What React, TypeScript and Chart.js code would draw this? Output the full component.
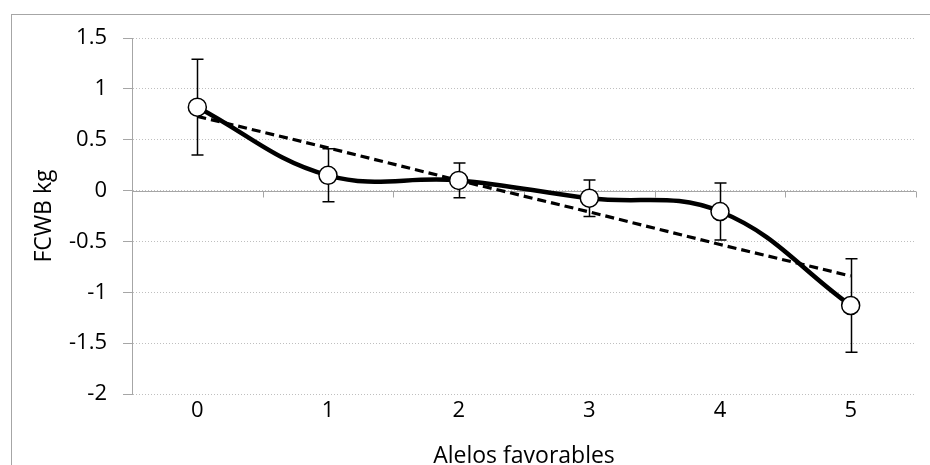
import React, { useEffect, useRef } from "react";
import { Chart, registerables } from "chart.js";

Chart.register(...registerables);

const categories = ["0", "1", "2", "3", "4", "5"];
const meanValues = [0.82, 0.15, 0.1, -0.075, -0.206, -1.13];
const errorValues = [0.47, 0.26, 0.17, 0.18, 0.28, 0.46];
const trendValues = [0.73, 0.42, 0.1, -0.21, -0.53, -0.84];
const yTicks = [-2, -1.5, -1, -0.5, 0, 0.5, 1, 1.5];
const xTitle = "Alelos favorables";
const yTitle = "FCWB kg";

const FONT = '"Open Sans", "Noto Sans", sans-serif';
const GRAY = "#a6a6a6";

const decorPlugin = {
  id: "decor",
  beforeDatasetsDraw(chart: any) {
    const { ctx, chartArea } = chart;
    const x = chart.scales.x;
    const y = chart.scales.y;
    const y0 = Math.round(y.getPixelForValue(0)) + 0.5;
    ctx.save();
    ctx.strokeStyle = GRAY;
    ctx.lineWidth = 1;
    ctx.setLineDash([]);
    ctx.beginPath();
    ctx.moveTo(chartArea.left, y0);
    ctx.lineTo(chartArea.right, y0);
    for (let k = 1; k <= categories.length; k++) {
      const px = Math.round(x.getPixelForValue(k - 0.5)) + 0.5;
      ctx.moveTo(px, y0);
      ctx.lineTo(px, y0 + 6);
    }
    ctx.stroke();
    ctx.strokeStyle = "#000";
    ctx.lineWidth = 1.5;
    ctx.beginPath();
    meanValues.forEach((v, i) => {
      const px = Math.round(x.getPixelForValue(i)) + 0.5;
      const top = y.getPixelForValue(v + errorValues[i]);
      const bot = y.getPixelForValue(v - errorValues[i]);
      ctx.moveTo(px, top);
      ctx.lineTo(px, bot);
      ctx.moveTo(px - 6, top);
      ctx.lineTo(px + 6, top);
      ctx.moveTo(px - 6, bot);
      ctx.lineTo(px + 6, bot);
    });
    ctx.stroke();
    ctx.restore();
  },
  afterDraw(chart: any) {
    const { ctx } = chart;
    ctx.save();
    ctx.strokeStyle = GRAY;
    ctx.lineWidth = 1;
    ctx.strokeRect(11.5, 14.5, 1000, 1000);
    ctx.restore();
  },
};

export default function App() {
  const ref = useRef<HTMLCanvasElement | null>(null);
  useEffect(() => {
    if (!ref.current) return;
    const chart = new Chart(ref.current, {
      type: "line",
      data: {
        labels: categories,
        datasets: [
          {
            label: "FCWB",
            data: meanValues,
            borderColor: "#000",
            borderWidth: 4.5,
            tension: 0.4,
            pointRadius: 9,
            pointHoverRadius: 9,
            pointBackgroundColor: "#fff",
            pointBorderColor: "#000",
            pointBorderWidth: 1.5,
            order: 0,
          },
          {
            label: "Tendencia",
            data: trendValues,
            borderColor: "#000",
            borderWidth: 3.2,
            borderDash: [9, 5],
            pointRadius: 0,
            tension: 0,
            order: 1,
          },
        ],
      },
      options: {
        animation: false,
        responsive: false,
        layout: { padding: { left: 0, right: 14, top: 38, bottom: 0 } },
        plugins: { legend: { display: false }, tooltip: { enabled: false } },
        scales: {
          x: {
            type: "category",
            offset: true,
            grid: { display: false, drawTicks: false },
            border: { display: false },
            ticks: { color: "#000", font: { family: FONT, size: 22 }, padding: 4, maxRotation: 0 },
            title: {
              display: true,
              text: xTitle,
              color: "#000",
              font: { family: FONT, size: 23, lineHeight: 0.75 },
              padding: { top: 0, bottom: 0 },
            },
            afterFit(scale: any) {
              scale.height = 71;
            },
          },
          y: {
            type: "linear",
            min: -2,
            max: 1.5,
            afterBuildTicks(scale: any) {
              scale.ticks = yTicks.map((v) => ({ value: v }));
            },
            grid: {
              color: "#bfbfbf",
              lineWidth: 1,
              drawTicks: true,
              tickLength: 9,
              tickColor: GRAY,
              tickBorderDash: [],
            },
            border: { display: true, color: GRAY, width: 1, dash: [1, 2] },
            ticks: {
              color: "#000",
              font: { family: FONT, size: 22 },
              padding: 16,
              callback: (v: any) => String(v),
            },
            title: {
              display: true,
              text: yTitle,
              color: "#000",
              font: { family: FONT, size: 23, lineHeight: 1.0 },
              padding: { top: 33, bottom: 33 },
            },
            afterFit(scale: any) {
              scale.width = 132;
            },
          },
        },
      },
      plugins: [decorPlugin],
    });
    return () => chart.destroy();
  }, []);
  return (
    <div style={{ position: "absolute", left: 0, top: 0, width: 930, height: 465, background: "#fff" }}>
      <canvas ref={ref} width={930} height={465} />
    </div>
  );
}
